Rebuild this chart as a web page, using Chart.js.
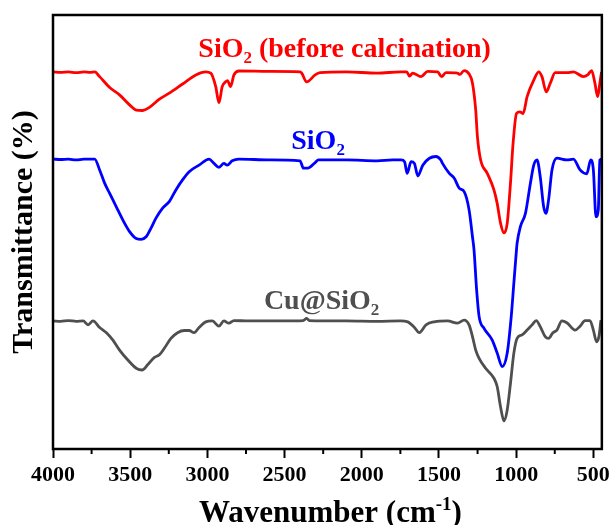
<!DOCTYPE html>
<html>
<head>
<meta charset="utf-8">
<script src="https://cdn.jsdelivr.net/npm/chart.js@4.4.1/dist/chart.umd.min.js"></script>
<style>
  html, body { margin: 0; padding: 0; background: #fff; }
  #wrap { width: 614px; height: 525px; }
</style>
</head>
<body>
<div id="wrap"><canvas id="ftir-chart"></canvas></div>
<script>
// --- données (nombre d'onde en cm-1, transmittance en %) ---

const redWn = [4000,3950,3900,3850,3800,3760,3730,3698,3633,3569,3504,3461,3419,3376,3311,3247,3161,3075,3011,2978,2946,2925,2904,2882,2870,2850,2828,2796,2600,2400,2389,2357,2302,2270,2100,1900,1750,1709,1691,1670,1616,1573,1509,1483,1455,1380,1365,1337,1305,1283,1262,1251,1230,1187,1144,1123,1101,1079,1058,1037,1020,998,976,955,929,886,854,833,805,779,747,672,629,564,537,511,490,472,458,447];
const redT = [86.9,86.8,86.9,86.7,86.9,86.8,86.9,85.8,83.3,81.6,79.3,78.1,78.0,78.7,80.6,82.0,84.1,86.2,86.9,86.6,83.5,79.8,83.5,84.6,84.9,83.5,86.2,87.1,87.0,86.9,86.6,84.6,86.2,86.7,86.9,86.6,86.9,86.9,85.9,86.6,85.8,87.0,86.9,85.8,86.7,86.6,86.3,87.2,86.4,84.3,78.1,72.0,66.6,63.5,59.7,56.6,52.0,49.8,52.0,61.2,70.4,77.3,77.7,77.3,81.2,85.0,86.9,85.8,82.3,84.3,86.7,86.7,86.9,85.8,86.2,87.2,84.3,81.2,84.3,86.9];

const blueWn = [4000,3950,3900,3850,3800,3730,3698,3665,3633,3590,3548,3504,3461,3429,3397,3365,3333,3290,3247,3204,3161,3118,3054,2989,2957,2925,2893,2871,2839,2796,2600,2400,2378,2350,2302,2281,2100,1900,1800,1745,1723,1706,1681,1659,1637,1605,1562,1520,1488,1477,1433,1401,1369,1337,1305,1283,1273,1256,1240,1208,1155,1123,1090,1058,1032,1015,998,994,973,940,908,886,865,844,822,807,790,768,736,672,629,586,543,517,500,483,468,458,447];
const blueT = [66.8,66.7,66.8,66.6,66.8,66.8,64.3,61.2,58.9,55.8,52.8,50.1,48.5,48.3,48.9,50.9,53.2,55.5,57.0,59.7,62.0,63.9,65.4,66.8,65.8,64.9,65.8,65.4,66.4,66.8,66.6,66.4,64.7,64.7,66.0,66.6,66.6,66.4,66.6,66.6,66.2,63.5,66.2,65.8,62.9,65.4,67.0,67.4,66.6,65.8,63.5,62.4,60.1,59.3,55.1,48.9,45.9,36.6,30.5,27.8,25.1,22.1,19.0,22.1,30.5,38.2,45.9,47.4,51.2,54.3,61.2,65.4,66.6,62.7,55.8,54.3,57.4,64.3,67.0,66.6,66.8,64.3,63.4,66.6,64.3,53.5,55.1,66.6,66.8];

const grayWn = [4000,3950,3900,3850,3805,3773,3741,3698,3654,3612,3569,3515,3461,3423,3387,3343,3311,3279,3236,3193,3150,3118,3086,3054,3011,2968,2925,2893,2861,2828,2732,2500,2380,2357,2340,2100,1900,1750,1702,1659,1627,1584,1530,1444,1380,1337,1305,1283,1262,1240,1198,1144,1123,1101,1079,1058,1037,1015,994,962,929,897,870,844,812,790,762,736,704,672,618,586,554,522,500,479,464,451];
const grayT = [29.5,29.4,29.6,29.4,29.5,28.6,29.5,28.0,26.8,25.1,22.8,20.5,18.6,18.2,19.4,21.1,21.7,23.2,25.5,26.8,27.3,27.3,26.8,28.0,29.3,29.5,28.3,29.5,29.0,29.6,29.5,29.5,29.6,30.1,29.6,29.5,29.4,29.5,29.3,28.0,26.8,28.6,29.3,29.5,29.0,29.7,28.6,25.9,22.8,20.9,18.6,16.3,14.4,9.7,6.5,9.0,15.1,22.1,25.5,26.3,27.4,28.6,29.6,28.2,25.9,25.5,26.8,27.4,29.5,29.1,27.4,28.3,29.6,29.6,27.4,24.7,25.9,29.7];

const majorTicks = [4000, 3500, 3000, 2500, 2000, 1500, 1000, 500];
const minorTicks = [3750, 3250, 2750, 2250, 1750, 1250, 750];

// étiquettes des courbes : [texte, indice?] + position (cm-1, %)
const redLabel = [['SiO', 0], ['2', 1], [' (before calcination)', 0]];
const blueLabel = [['SiO', 0], ['2', 1]];
const grayLabel = [['Cu@SiO', 0], ['2', 1]];
const labelPos = [[2111, 90.3], [2283, 69.1], [2260, 32.2]];

const FONT = "'Liberation Serif', 'Times New Roman', serif";

function toPoints(xs, ys) {
    return xs.map((v, i) => ({ x: v, y: ys[i] }));
}

// texte avec indice / exposant, centré sur cx
function drawRich(ctx, parts, cx, baseline, color, size) {
    const pieces = parts.map(([t, mode]) => {
        const s = mode === 0 ? size : Math.round(size * 0.62);
        ctx.font = `bold ${s}px ${FONT}`;
        return { t, s, mode, w: ctx.measureText(t).width };
    });
    const total = pieces.reduce((a, p) => a + p.w, 0);
    let xx = cx - total / 2;
    ctx.fillStyle = color;
    ctx.textAlign = 'left';
    ctx.textBaseline = 'alphabetic';
    pieces.forEach(p => {
        ctx.font = `bold ${p.s}px ${FONT}`;
        let dy = 0;
        if (p.mode === 1) dy = size * 0.22;
        if (p.mode === 2) dy = -size * 0.4;
        ctx.fillText(p.t, xx, baseline + dy);
        xx += p.w;
    });
}

const decor = {
    id: 'decor',
    afterDraw(chart) {
        const { ctx, chartArea: a, scales: { x, y } } = chart;
        ctx.save();

        // petites graduations
        ctx.strokeStyle = '#000';
        ctx.lineWidth = 2;
        minorTicks.forEach(v => {
            const px = x.getPixelForValue(v);
            ctx.beginPath();
            ctx.moveTo(px, a.bottom);
            ctx.lineTo(px, a.bottom + 5);
            ctx.stroke();
        });

        // cadre
        ctx.lineWidth = 2.5;
        ctx.strokeRect(a.left, a.top, a.right - a.left, a.bottom - a.top);

        // noms des courbes
        const labels = [redLabel, blueLabel, grayLabel];
        const colors = ['#ff0000', '#0000ff', '#4f4f4f'];
        labels.forEach((parts, i) => {
            const [wn, t] = labelPos[i];
            drawRich(ctx, parts, x.getPixelForValue(wn), y.getPixelForValue(t), colors[i], 28);
        });

        // titre de l'axe x avec exposant
        drawRich(ctx, [['Wavenumber (cm', 0], ['-1', 2], [')', 0]],
            (a.left + a.right) / 2 + 3, 522, '#000', 31);

        ctx.restore();
    }
};

const ctxFtir = document.getElementById('ftir-chart');

new Chart(ctxFtir, {
    type: 'line',
    data: {
        datasets: [
            { label: 'SiO2 (before calcination)', data: toPoints(redWn, redT), borderColor: '#ff0000' },
            { label: 'SiO2', data: toPoints(blueWn, blueT), borderColor: '#0000ff' },
            { label: 'Cu@SiO2', data: toPoints(grayWn, grayT), borderColor: '#4f4f4f' }
        ].map(d => Object.assign(d, {
            borderWidth: 2.8,
            pointRadius: 0,
            fill: false,
            cubicInterpolationMode: 'monotone'
        }))
    },
    options: {
        responsive: true,
        maintainAspectRatio: false,
        animation: false,
        layout: { padding: { top: 15, right: 9, bottom: 0, left: 0 } },
        plugins: {
            legend: { display: false },
            tooltip: { enabled: false }
        },
        scales: {
            x: {
                type: 'linear',
                reverse: true,
                min: 445,
                max: 4000,
                afterBuildTicks: s => { s.ticks = majorTicks.map(v => ({ value: v })); },
                afterFit: s => { s.height = 76; },
                ticks: {
                    color: '#000',
                    font: { family: FONT, size: 22, weight: 'bold' },
                    padding: 4,
                    maxRotation: 0,
                    callback: v => String(v)
                },
                grid: {
                    drawOnChartArea: false,
                    drawTicks: true,
                    tickLength: 9,
                    tickWidth: 2,
                    tickColor: '#000'
                },
                border: { display: false },
                title: { display: false }
            },
            y: {
                min: 0,
                max: 100,
                afterFit: s => { s.width = 53; },
                ticks: { display: false },
                grid: { display: false },
                border: { display: false },
                title: {
                    display: true,
                    text: 'Transmittance (%)',
                    color: '#000',
                    font: { family: FONT, size: 30, weight: 'bold' },
                    padding: { top: 6, bottom: 0 }
                }
            }
        }
    },
    plugins: [decor]
});
</script>
</body>
</html>
